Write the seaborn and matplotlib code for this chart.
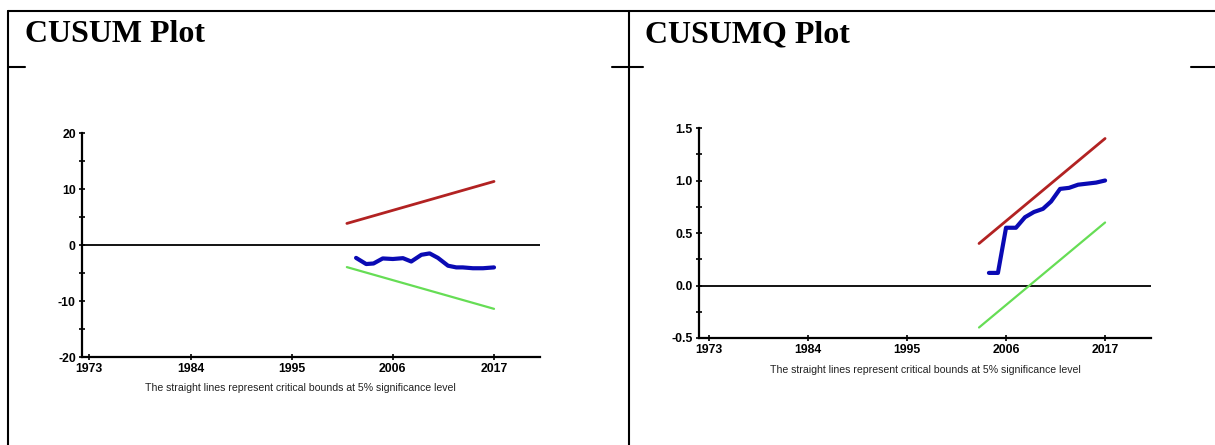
import numpy as np
import pandas as pd
import matplotlib
matplotlib.use("Agg")
import matplotlib.pyplot as plt
from matplotlib.lines import Line2D
from matplotlib.ticker import MultipleLocator
import seaborn as sns

# ---- data ----
year_ticks = [1973, 1984, 1995, 2006, 2017]

# CUSUM
cusum_bound_x = [2001.0, 2017.0]
cusum_upper = [3.85, 11.35]
cusum_lower = [-3.95, -11.4]
cusum_x = [2002.0, 2003.1, 2003.9, 2004.9, 2006.0, 2007.1, 2008.0, 2009.1,
           2010.0, 2010.9, 2012.0, 2012.9, 2013.6, 2014.7, 2015.8, 2017.0]
cusum_y = [-2.3, -3.4, -3.3, -2.4, -2.5, -2.35, -2.95, -1.75,
           -1.5, -2.3, -3.7, -4.0, -4.0, -4.15, -4.15, -4.0]

# CUSUMQ
cusumq_bound_x = [2003.0, 2017.0]
cusumq_upper = [0.40, 1.40]
cusumq_lower = [-0.40, 0.60]
cusumq_x = [2004.1, 2005.1, 2006.0, 2007.1, 2008.1, 2009.1, 2010.1, 2011.0,
            2012.0, 2013.0, 2014.0, 2015.0, 2016.0, 2017.0]
cusumq_y = [0.12, 0.12, 0.55, 0.55, 0.65, 0.70, 0.73, 0.80,
            0.92, 0.93, 0.96, 0.97, 0.98, 1.00]

caption = "The straight lines represent critical bounds at 5% significance level"

sns.set_style("white")
plt.rcParams['font.family'] = ['Liberation Sans Narrow', 'Liberation Sans', 'DejaVu Sans']
plt.rcParams['text.color'] = 'black'
plt.rcParams['xtick.color'] = 'black'
plt.rcParams['ytick.color'] = 'black'

W, H = 1215, 445
fig = plt.figure(figsize=(W / 100, H / 100), dpi=100)


def px_axes(x0, x1, ytop, ybot):
    return fig.add_axes([x0 / W, 1 - ybot / H, (x1 - x0) / W, (ybot - ytop) / H])


RED = "#b22222"
GREEN = "#66dd55"
BLUE = "#0a0ab4"


def draw_panel(ax, bx, up, lo, cx, cy, xlim, ylim, major, minor, fmt):
    sns.lineplot(x=bx, y=up, ax=ax, color=RED, lw=2.0)
    sns.lineplot(x=bx, y=lo, ax=ax, color=GREEN, lw=1.6)
    sns.lineplot(x=cx, y=cy, ax=ax, color=BLUE, lw=3.0)
    ax.axhline(0, color="black", lw=1.3, zorder=1)
    ax.set_xlim(*xlim)
    ax.set_ylim(*ylim)
    ax.set_xticks(year_ticks)
    ax.set_xticklabels([str(y) for y in year_ticks])
    ax.yaxis.set_major_locator(MultipleLocator(major))
    ax.yaxis.set_minor_locator(MultipleLocator(minor))
    ax.yaxis.set_major_formatter(plt.FuncFormatter(lambda v, loc: fmt.format(v)))
    for s in ["top", "right"]:
        ax.spines[s].set_visible(False)
    for s in ["left", "bottom"]:
        ax.spines[s].set_color("black")
        ax.spines[s].set_linewidth(1.6)
    ax.tick_params(axis="both", which="both", direction="inout", length=5,
                   width=1.2, color="black", labelcolor="black", labelsize=8.8, pad=2)
    ax.tick_params(axis="x", which="minor", length=0)
    ax.tick_params(axis="both", which="both", left=True, bottom=True)
    for lab in ax.get_xticklabels() + ax.get_yticklabels():
        lab.set_fontweight("bold")
    ax.set_xlabel("")
    ax.set_ylabel("")
    ax.patch.set_alpha(0)


ax1 = px_axes(82, 540, 133, 357)
draw_panel(ax1, cusum_bound_x, cusum_upper, cusum_lower, cusum_x, cusum_y,
           (1972.2, 2022.0), (-20, 20), 10, 5, "{:.0f}")

ax2 = px_axes(699, 1151, 128, 338)
draw_panel(ax2, cusumq_bound_x, cusumq_upper, cusumq_lower, cusumq_x, cusumq_y,
           (1971.9, 2022.1), (-0.5, 1.5), 0.5, 0.25, "{:.1f}")

fig.text(300 / W, 1 - 388 / H, caption, ha="center", va="center", fontsize=7.6, color="#222222")
fig.text(925 / W, 1 - 370 / H, caption, ha="center", va="center", fontsize=7.6, color="#222222")

# titles
fig.text(25 / W, 1 - 42 / H, "CUSUM Plot", family=["Liberation Serif", "DejaVu Serif"],
         fontweight="bold", fontsize=23, ha="left", va="baseline", color="black")
fig.text(645 / W, 1 - 42 / H, "CUSUMQ Plot", family=["Liberation Serif", "DejaVu Serif"],
         fontweight="bold", fontsize=23, ha="left", va="baseline", color="black")

# table frame


def seg(x0, y0, x1, y1):
    fig.add_artist(Line2D([x0 / W, x1 / W], [1 - y0 / H, 1 - y1 / H], color="black", lw=1.5,
                          transform=fig.transFigure))


seg(8, 11, W, 11)
seg(8, 11, 8, H)
seg(629, 11, 629, H)
seg(8, 67, 25, 67)
seg(612, 67, 643, 67)
seg(1191, 67, W, 67)

fig.savefig("out.png", dpi=100)
